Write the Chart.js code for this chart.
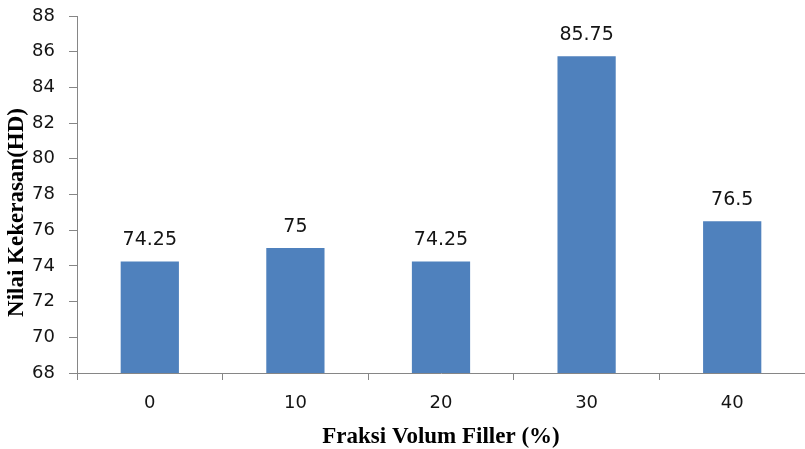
<!DOCTYPE html>
<html>
<head>
<meta charset="utf-8">
<script src="https://cdn.jsdelivr.net/npm/chart.js@4"></script>
<style>
  html, body { margin: 0; padding: 0; background: #fff; }
  #wrap { width: 805px; height: 449px; position: relative; }
</style>
</head>
<body>
<div id="wrap"><canvas id="hardnessChart"></canvas></div>
<script>
const fillerFractions = ['0', '10', '20', '30', '40'];
const hardnessValues = [74.25, 75, 74.25, 85.75, 76.5];
const yTicks = { min: 68, max: 88, step: 2 };

const axisGrey = '#868686';
const textDark = '#141414';

// value labels over each bar
const barValueLabels = {
    id: 'barValueLabels',
    afterDatasetsDraw(chart) {
        const ctx = chart.ctx;
        const meta = chart.getDatasetMeta(0);
        ctx.save();
        ctx.font = '19px "DejaVu Sans"';
        ctx.fillStyle = textDark;
        ctx.textAlign = 'center';
        ctx.textBaseline = 'middle';
        meta.data.forEach((bar, i) => {
            ctx.fillText(String(hardnessValues[i]), bar.x, bar.y - 21);
        });
        ctx.restore();
    }
};

// rotated y axis title, sits a bit below the plot's midpoint
const yAxisTitle = {
    id: 'yAxisTitle',
    afterDraw(chart) {
        const ctx = chart.ctx;
        const area = chart.chartArea;
        ctx.save();
        ctx.translate(17, (area.top + area.bottom) / 2 + 18);
        ctx.rotate(-Math.PI / 2);
        ctx.font = 'bold 23px "Liberation Serif"';
        ctx.fillStyle = '#000';
        ctx.textAlign = 'center';
        ctx.textBaseline = 'middle';
        ctx.fillText('Nilai Kekerasan(HD)', 0, 0);
        ctx.restore();
    }
};

const ctx = document.getElementById('hardnessChart').getContext('2d');
const hardnessChart = new Chart(ctx, {
    type: 'bar',
    data: {
        labels: fillerFractions,
        datasets: [{
            data: hardnessValues,
            backgroundColor: '#4f81bd',
            categoryPercentage: 1,
            barPercentage: 0.4
        }]
    },
    options: {
        responsive: true,
        maintainAspectRatio: false,
        animation: false,
        layout: { padding: { top: 16, right: 0, bottom: 0, left: 0 } },
        plugins: {
            legend: { display: false },
            tooltip: { enabled: false }
        },
        scales: {
            x: {
                grid: { offset: true, drawOnChartArea: false, tickLength: 7, color: axisGrey },
                border: { color: axisGrey, width: 1 },
                ticks: { color: textDark, font: { family: 'DejaVu Sans', size: 18 }, padding: 13 },
                title: {
                    display: true,
                    text: 'Fraksi Volum Filler (%)',
                    color: '#000',
                    font: { family: 'Liberation Serif', size: 23, weight: 'bold', lineHeight: 1 },
                    padding: 0
                },
                afterFit(scale) { scale.height = 76; }
            },
            y: {
                min: yTicks.min,
                max: yTicks.max,
                grid: { drawOnChartArea: false, tickLength: 8, color: axisGrey },
                border: { color: axisGrey, width: 1 },
                ticks: {
                    stepSize: yTicks.step,
                    color: textDark,
                    font: { family: 'DejaVu Sans', size: 18 },
                    padding: 14
                },
                afterFit(scale) {
                    scale.width = 77;
                    scale.paddingTop = 0;
                    scale.paddingBottom = 0;
                }
            }
        }
    },
    plugins: [barValueLabels, yAxisTitle]
});
</script>
</body>
</html>
